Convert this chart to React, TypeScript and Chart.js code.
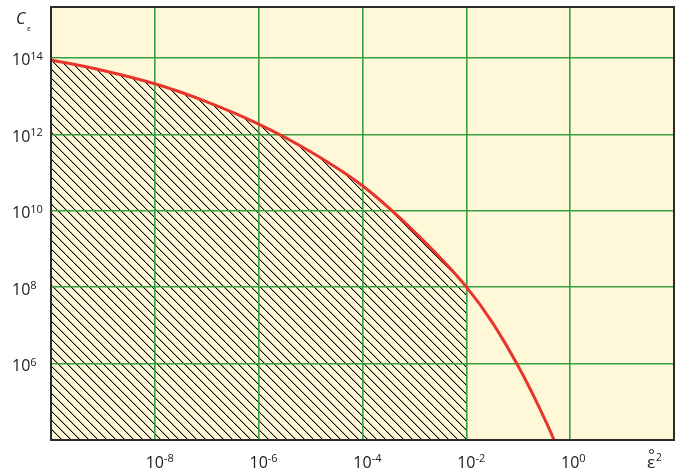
import React, { useEffect, useRef } from "react";
import { Chart, registerables } from "chart.js";

Chart.register(...registerables);

// ---- data ----
const xTickValues = [1e-10, 1e-8, 1e-6, 1e-4, 1e-2, 1e0, 1e2];
const xLabelExps = ["-8", "-6", "-4", "-2", "0"];
const xLabelValues = [1e-8, 1e-6, 1e-4, 1e-2, 1e0];
const yTickValues = [1e4, 1e6, 1e8, 1e10, 1e12, 1e14];
const yLabelExps = ["6", "8", "10", "12", "14"];
const yLabelValues = [1e6, 1e8, 1e10, 1e12, 1e14];

const curveX = [1e-10, 1e-9, 1e-8, 1e-7, 1e-6, 1e-5, 1e-4, 1e-3, 1e-2, 0.0316, 0.1, 0.25, 0.5, 0.63];
const curveY = [8.9e13, 4.7e13, 2.1e13, 7.1e12, 1.86e12, 3.5e11, 4.5e10, 2.8e9, 1.02e8, 1.2e7, 8.5e5, 7.4e4, 9.3e3, 4.0e3];
const hatchEndX = 1e-2;

const X_MIN = 1e-10;
const X_MAX = 1e2;
const Y_MIN = 1e4;
const Y_MAX = 2.15e15;

const BG = "#fef8d9";
const GRID = "#35a040";
const RED = "#e8352b";
const FRAME = "#2b2b2b";
const TEXT = "#1a1a1a";
const FONT = '"Open Sans", "Noto Sans", sans-serif';

function makeHatch(): CanvasPattern | string {
  const c = document.createElement("canvas");
  const s = 9;
  c.width = s;
  c.height = s;
  const g = c.getContext("2d");
  if (!g) return "#000";
  g.fillStyle = BG;
  g.fillRect(0, 0, s, s);
  for (let i = 0; i < s; i++) {
    g.fillStyle = "#000000";
    g.fillRect(i, i, 1, 1);
    g.fillStyle = "rgba(0,0,0,0.3)";
    g.fillRect((i + 1) % s, i, 1, 1);
  }
  const p = g.createPattern(c, "repeat");
  return p || "#000";
}

const paperPlugin = {
  id: "paper",
  beforeDraw(chart: any) {
    const { ctx, chartArea } = chart;
    const { left, top, right, bottom } = chartArea;
    ctx.save();
    ctx.fillStyle = BG;
    ctx.fillRect(left, top, right - left, bottom - top);
    const meta = chart.getDatasetMeta(0);
    const line = meta.dataset;
    const xs = chart.scales.x;
    const xEnd = xs.getPixelForValue(hatchEndX);
    if (line && line.points && line.points.length) {
      line.updateControlPoints(chartArea, "x");
      ctx.beginPath();
      ctx.rect(left, top, xEnd - left, bottom - top);
      ctx.clip();
      ctx.beginPath();
      line.path(ctx);
      const pts = line.points;
      ctx.lineTo(pts[pts.length - 1].x, bottom + 10);
      ctx.lineTo(pts[0].x, bottom + 10);
      ctx.closePath();
      ctx.fillStyle = chart.$hatch;
      ctx.fill();
    }
    ctx.restore();
  },
  afterDraw(chart: any) {
    const { ctx, chartArea } = chart;
    const { left, top, right, bottom } = chartArea;
    const xs = chart.scales.x;
    const ys = chart.scales.y;
    ctx.save();
    ctx.strokeStyle = FRAME;
    ctx.lineWidth = 2;
    ctx.strokeRect(left, top, right - left, bottom - top);

    ctx.fillStyle = TEXT;
    ctx.textBaseline = "alphabetic";
    yLabelValues.forEach((v, i) => {
      const py = ys.getPixelForValue(v);
      ctx.font = `16px ${FONT}`;
      ctx.textAlign = "left";
      ctx.fillText("10", 12, py + 7.5);
      const w = ctx.measureText("10").width;
      ctx.font = `11px ${FONT}`;
      ctx.fillText(yLabelExps[i], 12 + w, py + 2);
    });
    xLabelValues.forEach((v, i) => {
      const px = xs.getPixelForValue(v);
      ctx.font = `16px ${FONT}`;
      ctx.textAlign = "center";
      ctx.fillText("10", px, bottom + 27.5);
      const w = ctx.measureText("10").width;
      ctx.font = `11px ${FONT}`;
      ctx.textAlign = "left";
      ctx.fillText(xLabelExps[i], px + w / 2, bottom + 22);
    });
    ctx.font = `17px ${FONT}`;
    ctx.textAlign = "left";
    const ex = right - 27;
    ctx.fillText("\u03b5", ex, bottom + 28);
    const ew = ctx.measureText("\u03b5").width;
    ctx.beginPath();
    ctx.strokeStyle = TEXT;
    ctx.lineWidth = 1;
    ctx.arc(ex + ew / 2 + 0.5, bottom + 11.5, 2, 0, Math.PI * 2);
    ctx.stroke();
    ctx.font = `10px ${FONT}`;
    ctx.fillText("2", ex + ew + 1, bottom + 21);
    ctx.font = `italic 16px ${FONT}`;
    ctx.fillText("C", 16, 24);
    ctx.font = `8px ${FONT}`;
    ctx.fillText("\u03b5", 27, 31);
    ctx.restore();
  },
};

export default function App() {
  const ref = useRef<HTMLCanvasElement | null>(null);
  useEffect(() => {
    if (!ref.current) return;
    const data = curveX.map((x, i) => ({ x, y: curveY[i] }));
    const chart: any = new Chart(ref.current, {
      type: "line",
      data: {
        datasets: [
          {
            data,
            borderColor: RED,
            borderWidth: 3,
            pointRadius: 0,
            fill: false,
            cubicInterpolationMode: "monotone",
          },
        ],
      },
      options: {
        responsive: false,
        animation: false,
        events: [],
        layout: { padding: { left: 51, top: 7, right: 8, bottom: 35 } },
        plugins: { legend: { display: false }, tooltip: { enabled: false } },
        scales: {
          x: {
            type: "logarithmic",
            min: X_MIN,
            max: X_MAX,
            afterBuildTicks: (s: any) => {
              s.ticks = xTickValues.map((value) => ({ value }));
            },
            ticks: { display: false },
            grid: { color: GRID, lineWidth: 1.6, drawTicks: false },
            border: { display: false },
          },
          y: {
            type: "logarithmic",
            min: Y_MIN,
            max: Y_MAX,
            afterBuildTicks: (s: any) => {
              s.ticks = yTickValues.map((value) => ({ value }));
            },
            ticks: { display: false },
            grid: { color: GRID, lineWidth: 1.6, drawTicks: false },
            border: { display: false },
          },
        },
      },
      plugins: [paperPlugin],
    } as any);
    chart.$hatch = makeHatch();
    chart.draw();
    return () => chart.destroy();
  }, []);
  return (
    <div style={{ position: "fixed", left: 0, top: 0, width: 682, height: 475, background: "#fff" }}>
      <canvas ref={ref} width={682} height={475} style={{ display: "block" }} />
    </div>
  );
}
